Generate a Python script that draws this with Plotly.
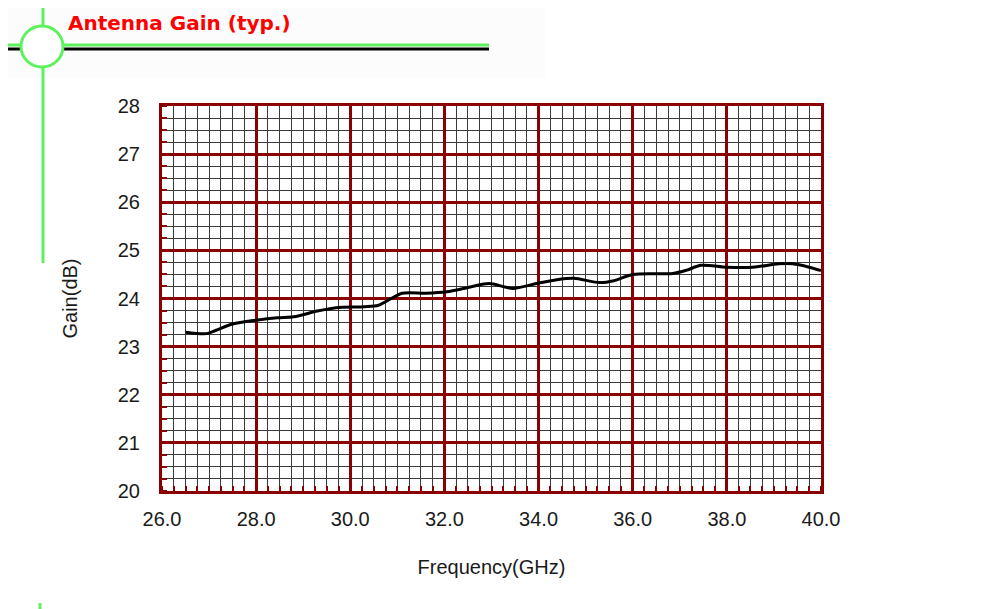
import plotly.graph_objects as go

# ---- data ----
freq_ghz = [26.5, 26.95, 27.15, 27.5, 28.0, 28.45, 28.8, 29.3, 29.7, 30.3, 30.6,
            31.1, 31.6, 32.05, 32.55, 32.95, 33.45, 33.95, 34.45, 34.75, 35.3,
            35.6, 36.0, 36.85, 37.15, 37.45, 38.0, 38.55, 39.1, 39.4, 39.75, 40.0]
gain_db = [23.30, 23.27, 23.34, 23.47, 23.55, 23.60, 23.62, 23.74, 23.81, 23.83, 23.86,
           24.11, 24.11, 24.14, 24.24, 24.31, 24.21, 24.31, 24.40, 24.42, 24.33,
           24.37, 24.50, 24.52, 24.59, 24.69, 24.65, 24.65, 24.72, 24.72, 24.65, 24.58]
x_ticks = [26.0, 28.0, 30.0, 32.0, 34.0, 36.0, 38.0, 40.0]
x_tick_labels = ["26.0", "28.0", "30.0", "32.0", "34.0", "36.0", "38.0", "40.0"]
y_ticks = [20, 21, 22, 23, 24, 25, 26, 27, 28]
title_text = "Antenna Gain (typ.)"
x_title = "Frequency(GHz)"
y_title = "Gain(dB)"

W, H = 982, 609
OFF = 8                       # page body margin in the browser
L, R, T, B = 162, 821, 106, 491   # plot area in page pixels
DARK_RED = "#8b0000"
GREEN = "#5df25d"

def px(x):
    return (x - L) / (R - L)

def py(y):
    return (B - y) / (B - T)

fig = go.Figure()
fig.add_trace(go.Scatter(
    x=freq_ghz, y=gain_db, mode="lines",
    line=dict(color="black", width=3, shape="spline", smoothing=0.8),
    showlegend=False, hoverinfo="x+y",
))

axis_font = dict(family="Liberation Sans, Arial, sans-serif", size=20, color="#1a1a1a")

fig.update_xaxes(
    range=[26, 40], tickvals=x_ticks, ticktext=x_tick_labels,
    showgrid=True, gridcolor=DARK_RED, gridwidth=2.5,
    showline=True, linecolor=DARK_RED, linewidth=3, mirror=True,
    ticks="", tickfont=axis_font, zeroline=False, ticklabelstandoff=8,
    minor=dict(dtick=0.25, showgrid=True, gridcolor="#3a3a3a", gridwidth=1,
               ticks="inside", ticklen=5, tickcolor=DARK_RED, tickwidth=2),
    title=dict(text=x_title, font=axis_font, standoff=31),
)
fig.update_yaxes(
    range=[20, 28], tickvals=y_ticks,
    showgrid=True, gridcolor=DARK_RED, gridwidth=2.5,
    showline=True, linecolor=DARK_RED, linewidth=3, mirror=True,
    ticks="", tickfont=axis_font, zeroline=False, ticklabelstandoff=15,
    minor=dict(dtick=0.25, showgrid=True, gridcolor="#3a3a3a", gridwidth=1,
               ticks="inside", ticklen=5, tickcolor=DARK_RED, tickwidth=2),
    title=dict(text=y_title, font=axis_font, standoff=35),
)

shapes = [
    # faint shading behind the header
    dict(type="rect", xref="paper", yref="paper", x0=px(0), x1=px(545), y0=py(78), y1=py(0),
         fillcolor="rgba(0,0,0,0.012)", line=dict(width=0), layer="below"),
    # vertical green line
    dict(type="line", xref="paper", yref="paper", x0=px(43), x1=px(43), y0=py(263), y1=py(0),
         line=dict(color=GREEN, width=3)),
    dict(type="line", xref="paper", yref="paper", x0=px(40), x1=px(40), y0=py(609), y1=py(603),
         line=dict(color=GREEN, width=3)),
    # horizontal lines
    dict(type="line", xref="paper", yref="paper", x0=px(5), x1=px(489), y0=py(45), y1=py(45),
         line=dict(color=GREEN, width=3)),
    dict(type="line", xref="paper", yref="paper", x0=px(5), x1=px(489), y0=py(49), y1=py(49),
         line=dict(color="black", width=3)),
    # circle
    dict(type="circle", xref="paper", yref="paper", x0=px(21), x1=px(63), y0=py(67), y1=py(26),
         fillcolor="white", line=dict(color=GREEN, width=3)),
]

fig.update_layout(
    width=W, height=H,
    margin=dict(l=L - OFF, r=(W + OFF) - R, t=T - OFF, b=(H + OFF) - B),
    paper_bgcolor="white", plot_bgcolor="white",
    shapes=shapes,
    annotations=[dict(
        text="<b>" + title_text + "</b>", xref="paper", yref="paper",
        x=px(66), y=py(23), xanchor="left", yanchor="middle", showarrow=False,
        font=dict(family="DejaVu Sans, Verdana, sans-serif", size=20, color="#ff0000"),
    )],
)

fig.write_html("out.html")
